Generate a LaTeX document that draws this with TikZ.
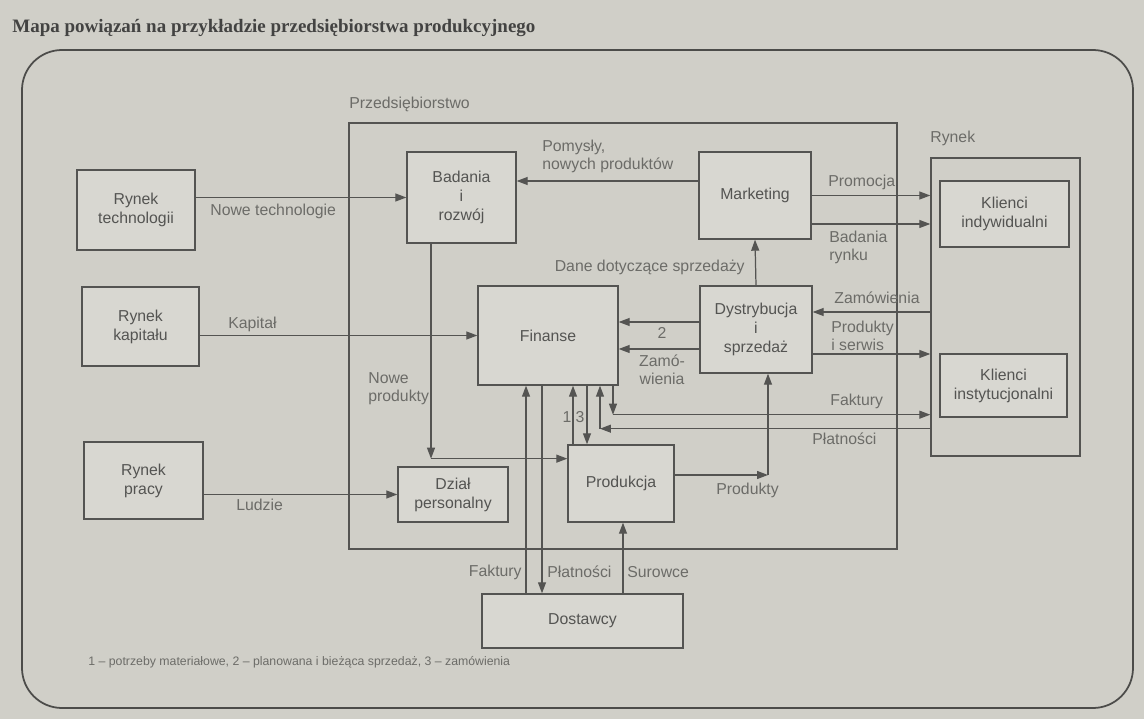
\documentclass[tikz,border=0pt]{standalone}
\usepackage{fontspec}
\setmainfont{Liberation Sans}
\newfontfamily\titlefont{Liberation Serif}
\usetikzlibrary{arrows.meta}
\definecolor{paper}{RGB}{208,207,200}
\definecolor{boxfill}{RGB}{216,215,209}
\definecolor{ink}{RGB}{84,84,82}
\definecolor{labelink}{RGB}{108,108,104}
\tikzset{
	box/.style={draw=ink, line width=0.8pt, fill=boxfill, align=center, text=ink, font=\fontsize{9}{10.8}\selectfont, inner sep=2pt},
	area/.style={draw=ink, line width=0.8pt, inner sep=0pt},
	lbl/.style={text=labelink, font=\fontsize{9}{10.3}\selectfont, inner sep=0pt},
	arr/.style={draw=ink, line width=0.7pt, -{Triangle[length=2.2mm,width=1.6mm]}},
	frame/.style={draw=ink!90!black, line width=1pt, rounded corners=8mm},
	heading/.style={text=ink!80!black, font=\titlefont\bfseries\fontsize{10.8}{12}\selectfont, inner sep=0pt},
}
\begin{document}
\begin{tikzpicture}[x=0.02cm, y=-0.02cm]
	%%%%% START %%%%%
	
	\fill[paper] (0,0) rectangle (1144,719);
	\useasboundingbox (0,0) rectangle (1144,719);
	
	\node[heading, anchor=west] (title) at (12,28) {Mapa powiązań na przykładzie przedsiębiorstwa produkcyjnego};
	\draw[frame] (22,50) rectangle (1133,708);
	
	% przedsiebiorstwo i rynek
	\node[area, minimum width=10.96cm, minimum height=8.52cm] (przeds) at (623,336) {};
	\node[lbl, anchor=west] (przeds-l) at (349,104) {Przedsiębiorstwo};
	\node[area, minimum width=2.98cm, minimum height=5.96cm] (rynek) at (1005.5,307) {};
	\node[lbl, anchor=west] (rynek-l) at (930,138) {Rynek};
	
	% boxes
	\node[box, minimum width=2.36cm, minimum height=1.6cm] (tech) at (136,210) {Rynek\\technologii};
	\node[box, minimum width=2.34cm, minimum height=1.58cm] (kap) at (140.5,326.5) {Rynek\\kapitału};
	\node[box, minimum width=2.38cm, minimum height=1.54cm] (praca) at (143.5,480.5) {Rynek\\pracy};
	\node[box, minimum width=2.18cm, minimum height=1.82cm] (badania) at (461.5,197.5) {Badania\\i\\rozwój};
	\node[box, minimum width=2.24cm, minimum height=1.74cm] (marketing) at (755,195.5) {Marketing};
	\node[box, minimum width=2.8cm, minimum height=1.98cm] (finanse) at (548,335.5) {Finanse};
	\node[box, minimum width=2.24cm, minimum height=1.74cm] (dystr) at (756,329.5) {Dystrybucja\\i\\sprzedaż};
	\node[box, minimum width=2.12cm, minimum height=1.54cm] (produkcja) at (621,483.5) {Produkcja};
	\node[box, minimum width=2.2cm, minimum height=1.1cm] (dzial) at (453,494.5) {Dział\\personalny};
	\node[box, minimum width=4.02cm, minimum height=1.08cm] (dostawcy) at (582.5,621) {Dostawcy};
	\node[box, minimum width=2.58cm, minimum height=1.32cm] (indyw) at (1004.5,214) {Klienci\\indywidualni};
	\node[box, minimum width=2.54cm, minimum height=1.26cm] (instyt) at (1003.5,385.5) {Klienci\\instytucjonalni};
	
	% points on the boxes
	\coordinate (pom) at ([yshift=2.9mm]marketing.west);
	\coordinate (bad) at ([yshift=-5.7mm]marketing.east);
	\coordinate (zam) at ([yshift=3.5mm]dystr.east);
	\coordinate (pis) at ([yshift=-4.9mm]dystr.east);
	\coordinate (dw2) at ([yshift=1.5mm]dystr.west);
	\coordinate (dwz) at ([yshift=-3.9mm]dystr.west);
	\coordinate (fk) at ([xshift=13mm,yshift=-5.8mm]finanse.south);
	\coordinate (pl) at ([xshift=10.4mm,yshift=-8.6mm]finanse.south);
	\coordinate (p1) at ([xshift=-9.6mm]produkcja.north);
	\coordinate (p3) at ([xshift=-6.8mm]produkcja.north);
	\coordinate (df) at ([xshift=-11.3mm]dostawcy.north);
	\coordinate (dp) at ([xshift=-8.1mm]dostawcy.north);
	\coordinate (ds) at ([xshift=8.1mm]dostawcy.north);
	\coordinate (np) at ([xshift=-6.1mm,yshift=-43mm]badania.south);
	\coordinate (pe) at ([yshift=1.7mm]produkcja.east);
	\coordinate (pd) at ([xshift=2.4mm]dystr.south);
	
	% connectors
	\draw[arr] (tech.east |- badania.west) -- (badania.west);
	\draw[arr] (kap.east |- finanse.west) -- (finanse.west);
	\draw[arr] (praca.east |- dzial.west) -- (dzial.west);
	\draw[arr] (pom) -- (pom -| badania.east);
	\draw[arr] (marketing.east) -- (marketing.east -| rynek.west);
	\draw[arr] (bad) -- (bad -| rynek.west);
	\draw[arr] (dystr.north) -- (marketing.south);
	\draw[arr] (zam -| rynek.west) -- (zam);
	\draw[arr] (pis) -- (pis -| rynek.west);
	\draw[arr] (dw2) -- (dw2 -| finanse.east);
	\draw[arr] (dwz) -- (dwz -| finanse.east);
	\draw[arr] (fk |- finanse.south) -- (fk);
	\draw[arr] (fk) -- (fk -| rynek.west);
	\draw[arr] (pl -| rynek.west) -- (pl);
	\draw[arr] (pl) -- (pl |- finanse.south);
	\draw[arr] (p1) -- (p1 |- finanse.south);
	\draw[arr] (p3 |- finanse.south) -- (p3);
	\draw[arr] (df) -- (df |- finanse.south);
	\draw[arr] (dp |- finanse.south) -- (dp);
	\draw[arr] (ds) -- (ds |- produkcja.south);
	\draw[arr] (np |- badania.south) -- (np);
	\draw[arr] (np) -- (np -| produkcja.west);
	\draw[arr] (pe) -- (pe -| pd);
	\draw[arr] (pe -| pd) -- (pd);
	
	% labels
	\node[lbl, anchor=west] (l-tech) at (210,211) {Nowe technologie};
	\node[lbl, anchor=west] (l-kap) at (228,324) {Kapitał};
	\node[lbl, anchor=west] (l-ludzie) at (236,505) {Ludzie};
	\node[lbl, anchor=west, align=left] (l-pom) at (542,156) {Pomysły,\\nowych produktów};
	\node[lbl, anchor=west] (l-prom) at (828,182) {Promocja};
	\node[lbl, anchor=west, align=left] (l-bad) at (829,247) {Badania\\rynku};
	\node[lbl, anchor=east] (l-dane) at (745,267) {Dane dotyczące sprzedaży};
	\node[lbl, anchor=west] (l-zam) at (834,298) {Zamówienia};
	\node[lbl, anchor=west, align=left] (l-pis) at (831,336) {Produkty\\i serwis};
	\node[lbl] (l-2) at (662,333) {2};
	\node[lbl, align=center] (l-zw) at (662,370) {Zamó-\\wienia};
	\node[lbl, anchor=west] (l-fk) at (830,401) {Faktury};
	\node[lbl, anchor=west] (l-pl) at (812,439) {Płatności};
	\node[lbl, anchor=west, align=left] (l-np) at (368,389) {Nowe\\produkty};
	\node[lbl] (l-1) at (567,417) {1};
	\node[lbl] (l-3) at (580,417) {3};
	\node[lbl, anchor=west] (l-prod) at (716,490) {Produkty};
	\node[lbl, anchor=east] (l-dfk) at (522,572) {Faktury};
	\node[lbl, anchor=west] (l-dpl) at (547,572) {Płatności};
	\node[lbl, anchor=west] (l-sur) at (627,572) {Surowce};
	
	\node[lbl, anchor=west, font=\fontsize{7}{8}\selectfont] (note) at (88,662) {1 – potrzeby materiałowe, 2 – planowana i bieżąca sprzedaż, 3 – zamówienia};
	
	%%%%% END %%%%%
\end{tikzpicture}
\end{document}
